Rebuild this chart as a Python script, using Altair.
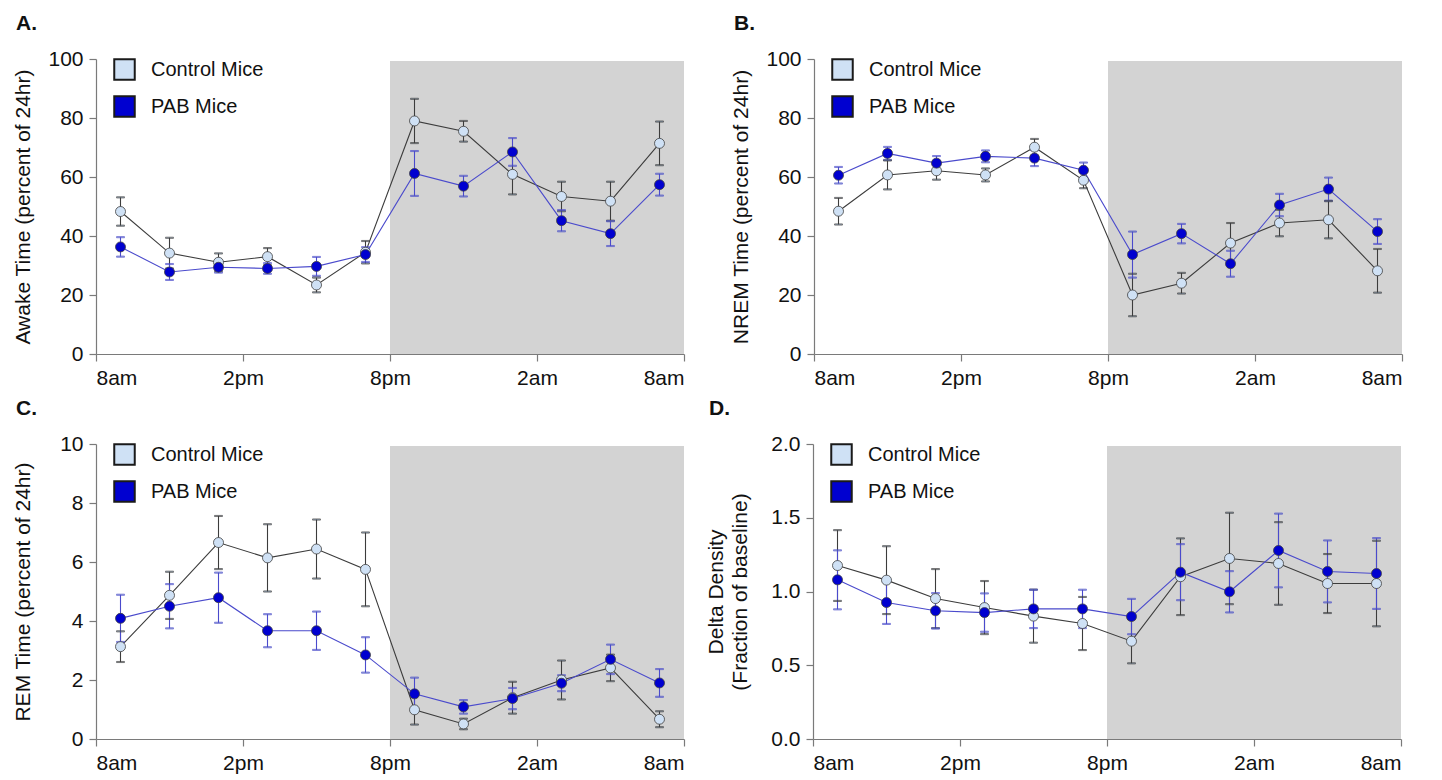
import altair as alt
import pandas as pd

# ---------------- data ----------------
hours = [1, 3, 5, 7, 9, 11, 13, 15, 17, 19, 21, 23]
tick_hours = [0, 6, 12, 18, 24]
tick_labels = ["8am", "2pm", "8pm", "2am", "8am"]
night_start, night_end = 12, 24
groups = ["Control Mice", "PAB Mice"]
line_keys = ["ctrl_line", "pab_line"]

awake_ctrl = [48.3, 34.2, 31.1, 33.0, 23.4, 34.5, 79.0, 75.5, 60.9, 53.4, 51.8, 71.4]
awake_ctrl_err = [4.8, 5.2, 3.0, 2.9, 2.5, 3.8, 7.5, 3.5, 6.8, 5.0, 6.6, 7.4]
awake_pab = [36.3, 27.8, 29.4, 29.0, 29.7, 33.7, 61.2, 56.9, 68.5, 45.2, 40.8, 57.4]
awake_pab_err = [3.3, 2.7, 1.8, 1.8, 3.2, 2.5, 7.6, 3.5, 4.7, 3.6, 4.2, 3.7]

nrem_ctrl = [48.4, 60.7, 62.1, 60.7, 70.1, 58.9, 20.0, 24.0, 37.6, 44.4, 45.5, 28.2]
nrem_ctrl_err = [4.5, 4.9, 3.0, 2.2, 2.8, 2.7, 7.2, 3.5, 6.8, 4.5, 6.3, 7.4]
nrem_pab = [60.6, 68.0, 64.7, 67.0, 66.4, 62.3, 33.7, 40.8, 30.6, 50.5, 55.9, 41.5]
nrem_pab_err = [2.8, 2.2, 2.4, 2.0, 2.7, 2.6, 7.8, 3.3, 4.4, 3.8, 3.9, 4.2]

rem_ctrl = [3.13, 4.87, 6.66, 6.14, 6.44, 5.75, 0.99, 0.51, 1.40, 2.00, 2.41, 0.67]
rem_ctrl_err = [0.52, 0.80, 0.90, 1.14, 1.00, 1.25, 0.50, 0.18, 0.54, 0.66, 0.45, 0.27]
rem_pab = [4.09, 4.50, 4.79, 3.67, 3.67, 2.85, 1.53, 1.09, 1.37, 1.89, 2.70, 1.90]
rem_pab_err = [0.80, 0.75, 0.85, 0.56, 0.65, 0.60, 0.55, 0.23, 0.36, 0.27, 0.50, 0.47]

delta_ctrl = [1.176, 1.077, 0.952, 0.891, 0.833, 0.783, 0.663, 1.100, 1.224, 1.190, 1.054, 1.054]
delta_ctrl_err = [0.24, 0.23, 0.20, 0.18, 0.18, 0.18, 0.15, 0.26, 0.31, 0.28, 0.20, 0.29]
delta_pab = [1.079, 0.925, 0.869, 0.857, 0.882, 0.882, 0.830, 1.131, 0.998, 1.278, 1.136, 1.122]
delta_pab_err = [0.20, 0.145, 0.12, 0.13, 0.13, 0.13, 0.12, 0.19, 0.14, 0.25, 0.21, 0.24]

# ---------------- style ----------------
FONT = "Liberation Sans"
W, H = 588, 295
line_colors = ["#3c3c3c", "#4a4acc"]
fill_colors = ["#cfe1f5", "#0000d0"]
label_expr = "[" + ",".join(f"'{t}'" for t in tick_labels) + "][datum.value/6]"


def make_panel(letter, ytitle, ymax, ystep, fmt, cm, ce, pm, pe):
    rows = []
    for g, k, m, e in [(groups[0], line_keys[0], cm, ce), (groups[1], line_keys[1], pm, pe)]:
        for h, v, s in zip(hours, m, e):
            rows.append({"hour": h, "group": g, "series": k, "mean": v,
                         "lo": v - s, "hi": v + s})
    df = pd.DataFrame(rows)
    night = pd.DataFrame({"start": [night_start], "end": [night_end],
                          "bottom": [0.0], "top": [ymax * 0.993]})

    xsc = alt.Scale(domain=[0, 24], nice=False, zero=False)
    ysc = alt.Scale(domain=[0, ymax], nice=False)
    xax = alt.Axis(values=tick_hours, labelExpr=label_expr, title=None)
    yvals = []
    v = 0.0
    while v <= ymax + 1e-9:
        yvals.append(round(v, 3))
        v += ystep
    yax = alt.Axis(values=yvals, format=fmt, title=ytitle, minExtent=52,
                   maxExtent=52, titlePadding=11, titleLineHeight=24)

    shade = alt.Chart(night).mark_rect(color="#d3d3d3").encode(
        x=alt.X("start:Q", scale=xsc, axis=xax),
        x2="end:Q",
        y=alt.Y("bottom:Q", scale=ysc, axis=yax),
        y2="top:Q",
    )
    stroke_enc = alt.Stroke("series:N", scale=alt.Scale(domain=line_keys, range=line_colors),
                            legend=None)
    base = alt.Chart(df)
    lines = base.mark_line(strokeWidth=1.1).encode(
        x=alt.X("hour:Q", scale=xsc), y=alt.Y("mean:Q", scale=ysc),
        stroke=stroke_enc, order="hour:Q")
    rules = base.mark_rule(strokeWidth=1.1).encode(
        x="hour:Q", y="lo:Q", y2="hi:Q", stroke=stroke_enc)
    cap_lo = base.mark_tick(orient="horizontal", size=8, thickness=1.1).encode(
        x="hour:Q", y="lo:Q", stroke=stroke_enc)
    cap_hi = base.mark_tick(orient="horizontal", size=8, thickness=1.1).encode(
        x="hour:Q", y="hi:Q", stroke=stroke_enc)
    pts = base.mark_circle(size=100, opacity=1, stroke="#404040",
                           strokeWidth=0.8).encode(
        x="hour:Q", y="mean:Q",
        fill=alt.Fill("group:N", scale=alt.Scale(domain=groups, range=fill_colors),
                      legend=alt.Legend(orient="none", legendX=17, legendY=-1, title=None,
                                        symbolType="square", symbolSize=420,
                                        symbolStrokeColor="#1a1a1a", symbolStrokeWidth=2,
                                        symbolOpacity=1, labelFontSize=20, labelFont=FONT,
                                        labelColor="#111", labelOffset=15, rowPadding=8,
                                        padding=0)),
    )
    return alt.layer(shade, lines, rules, cap_lo, cap_hi, pts).properties(
        width=W, height=H,
        title=alt.TitleParams(letter, anchor="start", fontSize=21, fontWeight="bold",
                              font=FONT, color="#111", offset=14, frame="bounds", dx=4))


pA = make_panel("A.", "Awake Time (percent of 24hr)", 100, 20, "d",
                awake_ctrl, awake_ctrl_err, awake_pab, awake_pab_err)
pB = make_panel("B.", "NREM Time (percent of 24hr)", 100, 20, "d",
                nrem_ctrl, nrem_ctrl_err, nrem_pab, nrem_pab_err)
pC = make_panel("C.", "REM Time (percent of 24hr)", 10, 2, "d",
                rem_ctrl, rem_ctrl_err, rem_pab, rem_pab_err)
pD = make_panel("D.", ["Delta Density", "(Fraction of baseline)"], 2.0, 0.5, ".1f",
                delta_ctrl, delta_ctrl_err, delta_pab, delta_pab_err)


def indep(c):
    return c.resolve_scale(x="independent", y="independent", fill="independent",
                           stroke="independent").resolve_legend(fill="independent")


row1 = indep(alt.hconcat(pA, pB, spacing=44))
row2 = indep(alt.hconcat(pC, pD, spacing=20))

chart = indep(alt.vconcat(row1, row2, spacing=10)).properties(
    padding={"left": 3, "top": 5, "right": 5, "bottom": 5}
).configure_view(stroke=None).configure_axis(
    grid=False, domainColor="#7a7a7a", tickColor="#7a7a7a", tickSize=7,
    labelPadding=6, labelFontSize=21, labelFont=FONT, labelColor="#111",
    titleFontSize=21, titleFont=FONT, titleFontWeight="normal", titleColor="#111",
    domainWidth=1.2, tickWidth=1.2
)

chart.save("out.html", embed_options={"renderer": "svg", "actions": False})
